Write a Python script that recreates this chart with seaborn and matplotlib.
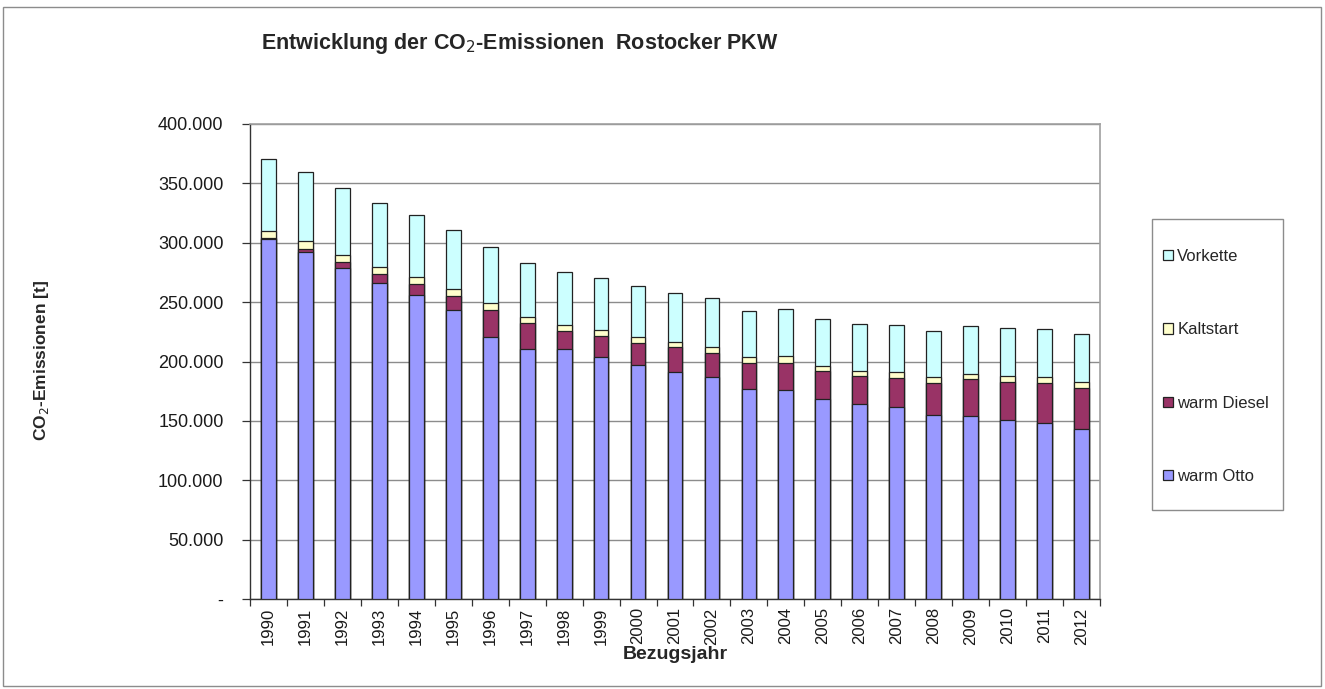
import matplotlib
matplotlib.use("Agg")
import matplotlib.pyplot as plt
from matplotlib.patches import Patch, Rectangle
from matplotlib.ticker import FuncFormatter, FixedLocator
import numpy as np
import pandas as pd
import seaborn as sns

# Reference years
years = [str(y) for y in range(1990, 2013)]

# CO2 emissions by source [t]
warm_otto = [303100, 291900, 278700, 266300, 256200, 243500, 220800, 210900,
             210400, 204200, 197200, 191500, 186800, 177000, 176400, 168500,
             164000, 161500, 154800, 154400, 150800, 148000, 143000]
warm_diesel = [500, 2800, 5000, 7000, 8700, 11300, 22500, 21400,
               15200, 17400, 18300, 20300, 20700, 21600, 22700, 23600,
               23600, 25000, 27500, 30700, 32000, 34000, 34800]
kaltstart = [6500, 6400, 5900, 6200, 5900, 5900, 5900, 5100,
             5300, 5100, 5000, 5000, 5100, 5100, 5700, 4500,
             4800, 4800, 4500, 4700, 5400, 4800, 4800]
vorkette = [60500, 58500, 56800, 54000, 52800, 50300, 47500, 45500,
            44400, 43600, 42700, 41300, 40500, 39000, 39300, 39600,
            39300, 39300, 38800, 40000, 39600, 40500, 40500]

series_names = ["warm Otto", "warm Diesel", "Kaltstart", "Vorkette"]
colors = {"warm Otto": "#9999FF", "warm Diesel": "#993366",
          "Kaltstart": "#FFFFCC", "Vorkette": "#CCFFFF"}

df = pd.DataFrame({"Jahr": years, "warm Otto": warm_otto,
                   "warm Diesel": warm_diesel, "Kaltstart": kaltstart,
                   "Vorkette": vorkette})
# cumulative heights for stacking
stack = df[series_names].cumsum(axis=1)

sns.set_theme(style="white")
plt.rcParams["font.family"] = ["Liberation Sans", "DejaVu Sans"]

W, H = 1325, 689
fig = plt.figure(figsize=(W / 100, H / 100), dpi=100)
ax = fig.add_axes([250 / W, 1 - 599 / H, 850 / W, 475 / H])

# draw from the top of the stack down so lower segments cover upper ones
for name in reversed(series_names):
    sns.barplot(x=df["Jahr"], y=stack[name], color=colors[name], saturation=1,
                width=0.4, edgecolor="#222222", linewidth=0.9,
                errorbar=None, ax=ax, zorder=3)

ax.set_xlim(-0.5, len(years) - 0.5)
ax.set_ylim(0, 400000)
ax.set_yticks(np.arange(0, 400001, 50000))
ax.yaxis.set_major_formatter(
    FuncFormatter(lambda v, p: "-" if v == 0 else f"{v:,.0f}".replace(",", ".")))
ax.yaxis.grid(True, color="#8c8c8c", linewidth=1.0, zorder=0)
ax.set_axisbelow(True)

ax.set_xticks(range(len(years)))
ax.set_xticklabels(years, rotation=90, fontsize=12, color="#1a1a1a")
ax.xaxis.set_minor_locator(FixedLocator(np.arange(-0.5, len(years), 1)))
ax.tick_params(axis="x", which="major", length=0, pad=6)
ax.tick_params(axis="x", which="minor", length=5, width=0.9, color="#333333",
               direction="out", bottom=True)
ax.tick_params(axis="y", length=6, width=0.9, color="#333333", direction="out",
               left=True, labelsize=13, labelcolor="#1a1a1a", pad=13)

for side in ["top", "right"]:
    ax.spines[side].set_color("#a0a0a0")
    ax.spines[side].set_linewidth(1.2)
for side in ["left", "bottom"]:
    ax.spines[side].set_color("#333333")
    ax.spines[side].set_linewidth(1.0)

ax.set_xlabel("Bezugsjahr", fontsize=14, fontweight="bold", labelpad=1)
ax.set_ylabel("")
fig.text(42 / W, 1 - 360 / H, "CO$_2$-Emissionen [t]", rotation=90,
         ha="center", va="center", fontsize=12.5, fontweight="bold")

fig.text(520 / W, 1 - 44 / H,
         "Entwicklung der CO$_2$-Emissionen  Rostocker PKW",
         ha="center", va="center", fontsize=15.5, fontweight="bold")

handles = [Patch(facecolor=colors[n], edgecolor="#222222", linewidth=0.9,
                 label=n) for n in reversed(series_names)]
leg = fig.legend(handles=handles, loc="upper left",
                 bbox_to_anchor=(1163 / W, 1 - 249 / H),
                 frameon=False, fontsize=12,
                 handlelength=0.6, handleheight=0.6, handletextpad=0.25,
                 labelspacing=3.5, borderpad=0, borderaxespad=0)

# legend box
fig.patches.append(Rectangle((1152 / W, 1 - 510 / H), 131 / W, 291 / H,
                             transform=fig.transFigure, fill=False,
                             edgecolor="#8c8c8c", linewidth=1.0))

# outer frame around the whole chart
fig.patches.append(Rectangle((3 / W, 3 / H), 1318 / W, 679 / H,
                             transform=fig.transFigure, fill=False,
                             edgecolor="#8c8c8c", linewidth=1.0))

fig.savefig("out.png", dpi=100)
